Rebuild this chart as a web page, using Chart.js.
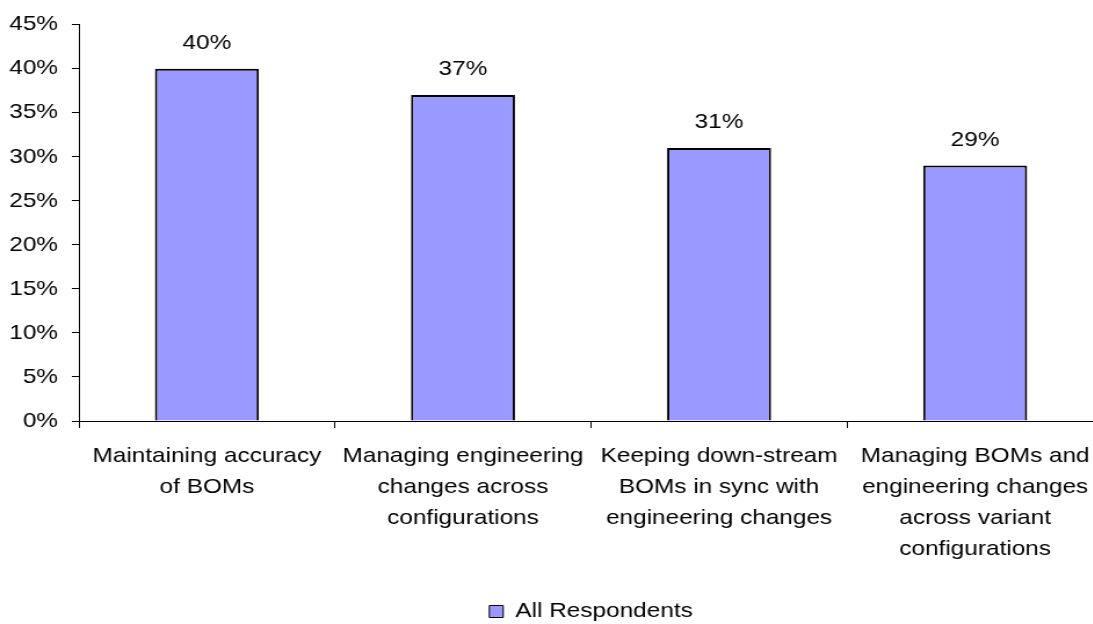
<!DOCTYPE html>
<html>
<head>
<meta charset="utf-8">
<script src="https://cdn.jsdelivr.net/npm/chart.js@4.4.1/dist/chart.umd.min.js"></script>
<style>
  html, body { margin: 0; padding: 0; background: #fff; overflow: hidden; }
  #frame { width: 1093px; height: 624px; overflow: hidden; }
  /* the chart is drawn slightly wide, like the exported original */
  #stretch { width: 960px; height: 632px; transform: scaleX(1.16); transform-origin: 0 0; }
</style>
</head>
<body>
<div id="frame"><div id="stretch"><canvas id="bomChart" width="960" height="632"></canvas></div></div>
<script>
// --- data ---
const categories = [
    ['Maintaining accuracy', 'of BOMs'],
    ['Managing engineering', 'changes across', 'configurations'],
    ['Keeping down-stream', 'BOMs in sync with', 'engineering changes'],
    ['Managing BOMs and', 'engineering changes', 'across variant', 'configurations']
];
const allRespondents = [40, 37, 31, 29];
const yTicks = [0, 5, 10, 15, 20, 25, 30, 35, 40, 45];
const seriesName = 'All Respondents';

const FONT = "'Liberation Sans', Arial, sans-serif";
Chart.defaults.font.family = FONT;
Chart.defaults.font.size = 21;
Chart.defaults.color = '#000';

// percentage above each bar
const valueLabels = {
    id: 'valueLabels',
    afterDatasetsDraw(chart) {
        const ctx = chart.ctx;
        const meta = chart.getDatasetMeta(0);
        ctx.save();
        ctx.font = '21px ' + FONT;
        ctx.fillStyle = '#000';
        ctx.textAlign = 'center';
        ctx.textBaseline = 'alphabetic';
        meta.data.forEach((bar, i) => {
            ctx.fillText(allRespondents[i] + '%', bar.x, bar.y - 20);
        });
        ctx.restore();
    }
};

// keep the legend centred under the plot area instead of the whole canvas
const legendUnderPlot = {
    id: 'legendUnderPlot',
    afterLayout(chart) {
        if (!chart.legend) return;
        chart.legend.left = chart.chartArea.left;
        chart.legend.right = chart.chartArea.right;
    }
};

new Chart(document.getElementById('bomChart'), {
    type: 'bar',
    data: {
        labels: categories,
        datasets: [{
            label: seriesName,
            data: allRespondents,
            backgroundColor: '#9999ff',
            borderColor: '#000',
            borderWidth: 2,
            borderSkipped: 'bottom',
            barPercentage: 0.406,
            categoryPercentage: 1
        }]
    },
    options: {
        responsive: false,
        animation: false,
        devicePixelRatio: 1,
        layout: { padding: { top: 22, right: 9, bottom: 0, left: 0 } },
        plugins: {
            tooltip: { enabled: false },
            legend: {
                position: 'bottom',
                labels: {
                    boxWidth: 12,
                    boxHeight: 12,
                    padding: 10,
                    color: '#000',
                    font: { size: 21 },
                    generateLabels(chart) {
                        const items = Chart.defaults.plugins.legend.labels.generateLabels(chart);
                        items.forEach(it => { it.lineWidth = 1; });
                        return items;
                    }
                }
            }
        },
        scales: {
            x: {
                grid: { drawOnChartArea: false, drawTicks: true, tickLength: 7, color: '#000' },
                border: { display: true, color: '#000', width: 1 },
                ticks: {
                    color: '#000',
                    padding: 13,
                    maxRotation: 0,
                    autoSkip: false,
                    font: { size: 21, lineHeight: 31 / 21 }
                },
                afterFit(scale) { scale.height = 170; }
            },
            y: {
                min: 0,
                max: 45,
                grid: { drawOnChartArea: false, drawTicks: true, tickLength: 6, color: '#000' },
                border: { display: true, color: '#000', width: 1 },
                afterBuildTicks(scale) { scale.ticks = yTicks.map(v => ({ value: v })); },
                ticks: {
                    color: '#000',
                    padding: 12,
                    font: { size: 21 },
                    callback: v => v + '%'
                },
                afterFit(scale) { scale.width = 68; }
            }
        }
    },
    plugins: [valueLabels, legendUnderPlot]
});
</script>
</body>
</html>
